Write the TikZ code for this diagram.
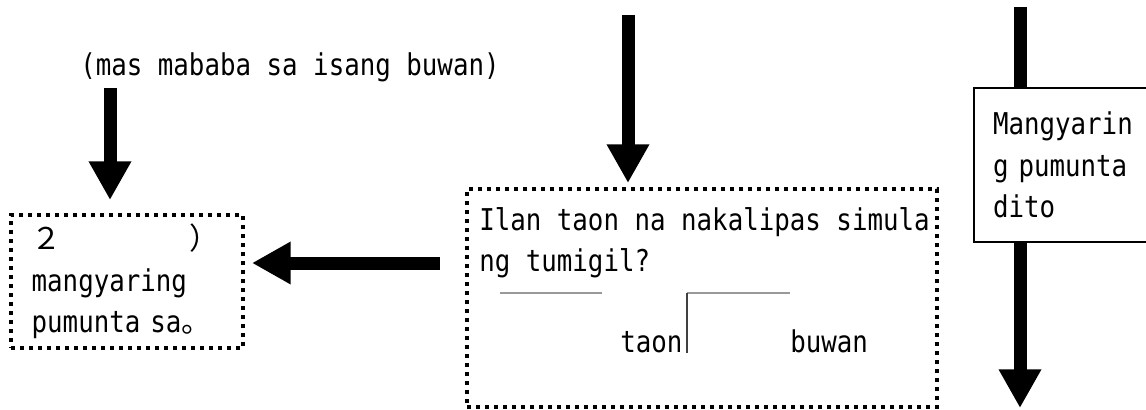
\documentclass[tikz,border=0pt]{standalone}
\usepackage{fontspec}
\setmonofont{DejaVu Sans Mono}[FakeStretch=0.86]
\newfontfamily\cjk{Noto Sans CJK JP}
\usetikzlibrary{arrows.meta,calc}

\begin{document}
\begin{tikzpicture}[x=0.75pt,y=-0.75pt,
	txt/.style={font=\ttfamily\fontsize{22.5}{31.1}\selectfont,inner sep=0pt,align=left},
	dotbox/.style={draw,line width=3pt,dash pattern=on 3pt off 3.75pt},
	solidbox/.style={draw,line width=1.2pt,fill=white},
	bigarrow/.style={line width=9.75pt,-{Triangle[width=30pt,length=29pt]}},
	bigshaft/.style={line width=9.75pt},
	formline/.style={black!40,line width=1.2pt},
	formbar/.style={black!75,line width=1.2pt}]
	\useasboundingbox (0,0) rectangle (1146,410);
	\clip (0,0) rectangle (1146,410);

	\node (note) at (80,75)[txt,anchor=base west] {(mas mababa sa isang buwan)};
	\node (lbox) at (127,281.5)[txt,dotbox,minimum width=174pt,minimum height=99.75pt,text width=143pt]
		{{\cjk ２\hspace*{96pt}）}\\mangyaring\\pumunta sa{\cjk 。}};
	\node (mbox) at (702,298)[dotbox,minimum width=352.5pt,minimum height=163.5pt] {};
	\node (quest) at (479,207)[txt,anchor=north west] {Ilan taon na nakalipas simula\\ng tumigil?};
	\node (taon) at (620,352)[txt,anchor=base west] {taon};
	\node (buwan) at (790,352)[txt,anchor=base west] {buwan};
	\node (rbox) at (1067,165)[txt,solidbox,minimum width=139.5pt,minimum height=115.5pt,text width=111pt]
		{Mangyarin\\g pumunta\\dito};

	\draw[formline] (500,293)--(602,293);
	\draw[formline] (687,293)--(790,293);
	\draw[formbar] (687,293)--(687,353);

	\coordinate (a1) at (110,88);
	\coordinate (a2) at (440,263);
	\coordinate (a3) at (628,15);
	\coordinate (a4) at (1020,7);
	\coordinate (a5) at (1020,408);
	\draw[bigarrow,shorten >=9.75pt] (a1)--(a1 |- lbox.north);
	\draw[bigarrow,shorten >=5.25pt] (a2)--(a2 -| lbox.east);
	\draw[bigarrow,shorten >=3pt] (a3)--(a3 |- mbox.north);
	\draw[bigshaft] (a4)--(a4 |- rbox.north);
	\draw[bigarrow] (a4 |- rbox.south)--(a5);
\end{tikzpicture}
\end{document}
